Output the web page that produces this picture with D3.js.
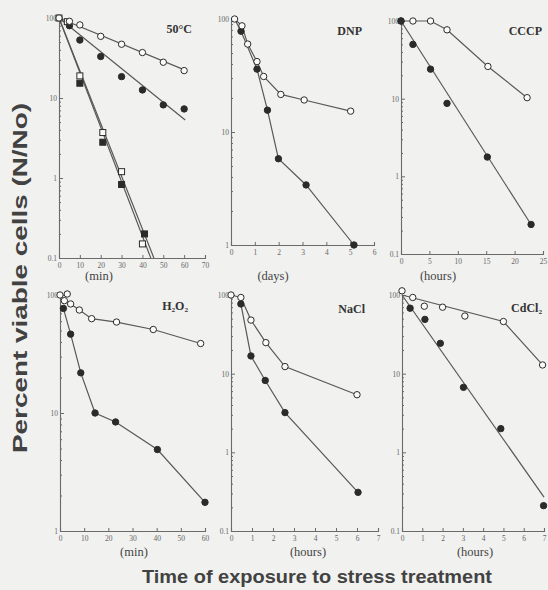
<!DOCTYPE html>
<meta charset="utf-8">
<style>
  body { margin: 0; background: #f1f1ef; }
  svg { display: block; }
  text { font-family: "Liberation Serif", "DejaVu Serif", serif; }
</style>
<body>
<script src="https://d3js.org/d3.v7.min.js"></script>
<script>

// 50°C (min)
var heatOpenCirc = [[0,100],[5,91],[10,82],[20,59],[30,47],[40,37],[50,28],[60,22]];
var heatFillCirc = [[5,80],[10,53],[20,33],[30,18.5],[40,12.6],[50,8.2],[60,7.3]];
var heatOpenSq   = [[0,100],[4,90],[10,18.9],[21,3.7],[30,1.2],[40,0.15]];
var heatFillSq   = [[10,15.3],[21,2.8],[30,0.83],[41,0.2]];
var heatLineOpenCirc = [[0,100],[61,22]];
var heatLineFillCirc = [[0,100],[60.5,5.3]];
var heatLineOpenSq   = [[0,100],[45.5,0.1]];
var heatLineFillSq   = [[0,100],[44,0.1]];

// DNP (days)
var dnpOpen = [[0.15,100],[0.46,87],[0.7,60],[1.09,42],[1.37,31],[2.09,21.5],[3.07,19.2],[5.02,15.3]];
var dnpFill = [[0.42,78],[1.09,36],[1.53,15.6],[1.99,5.8],[3.15,3.4],[5.16,1.0]];
var dnpLineFill = [[0.15,100]].concat(dnpFill);

// CCCP (hours)
var cccpOpen = [[0,100],[2.1,100],[5.2,100],[8.1,77],[15.3,26],[22.2,10.3]];
var cccpFill = [[0,100],[2.1,50],[5.2,24],[8.1,8.7],[15.2,1.77],[22.9,0.24]];
var cccpLineFill = [[0,100],[22.9,0.24]];

// H2O2 (min)
var h2o2Open = [[0,100],[3,102],[1.8,89.5],[4.4,84],[8,74.6],[13.1,63],[23.4,59],[38.6,51],[58.2,38.8]];
var h2o2LineOpen = [[1.8,89.5],[4.4,84],[8,74.6],[13.1,63],[23.4,59],[38.6,51],[58.2,38.8]];
var h2o2Fill = [[1.4,77],[4.4,46.6],[8.6,21.9],[14.5,10],[23,8.4],[40.3,4.9],[60,1.75]];

// NaCl (hours)
var naclOpen = [[0,100],[0.47,93],[0.95,48],[1.66,24.8],[2.57,12.3],[6.0,5.4]];
var naclFill = [[0.47,77],[0.95,16.8],[1.63,8.2],[2.57,3.2],[6.05,0.31]];

// CdCl2 (hours)
var cdOpen = [[0,113],[0.53,93],[1.1,72],[2.0,70],[3.1,54],[5.0,46],[6.93,12.9]];
var cdLineOpen = [[0,100],[5.0,46],[6.93,12.9]];
var cdFill = [[0.4,68],[1.13,49],[1.89,24.3],[3.03,6.7],[4.87,2.0],[6.98,0.21]];
var cdLineFill = [[0,100],[7,0.27]];

var titles = ["50°C", "DNP", "CCCP", "H₂O₂", "NaCl", "CdCl₂"];
var units  = ["(min)", "(days)", "(hours)", "(min)", "(hours)", "(hours)"];
var xTicks = [
  [0,10,20,30,40,50,60,70],
  [0,1,2,3,4,5,6],
  [0,5,10,15,20,25],
  [0,10,20,30,40,50,60],
  [0,1,2,3,4,5,6,7],
  [0,1,2,3,4,5,6,7]
];
var xMax = [70, 6, 25, 60, 7, 7];
var yMin = [0.1, 1, 0.1, 1, 0.1, 0.1];
var yTickLabels = {100: "100", 10: "10", 1: "1", 0.1: "0.1"};

var series = [
  [ {pts: heatOpenSq, line: heatLineOpenSq, shape: "sq", fill: false},
    {pts: heatFillSq, line: heatLineFillSq, shape: "sq", fill: true},
    {pts: heatFillCirc, line: heatLineFillCirc, shape: "c", fill: true},
    {pts: heatOpenCirc, line: heatLineOpenCirc, shape: "c", fill: false} ],
  [ {pts: dnpFill, line: dnpLineFill, shape: "c", fill: true},
    {pts: dnpOpen, line: dnpOpen, shape: "c", fill: false} ],
  [ {pts: cccpOpen, line: cccpOpen, shape: "c", fill: false},
    {pts: cccpFill, line: cccpLineFill, shape: "c", fill: true} ],
  [ {pts: h2o2Fill, line: h2o2Fill, shape: "c", fill: true},
    {pts: h2o2Open, line: h2o2LineOpen, shape: "c", fill: false} ],
  [ {pts: naclFill, line: naclFill, shape: "c", fill: true},
    {pts: naclOpen, line: naclOpen, shape: "c", fill: false} ],
  [ {pts: cdFill, line: cdLineFill, shape: "c", fill: true},
    {pts: cdOpen, line: cdLineOpen, shape: "c", fill: false} ]
];

// pixel frame of each panel: left, right, top, bottom
var frames = [
  [59, 205, 18, 258],
  [231, 374, 19, 245],
  [401, 543, 21, 254],
  [60, 205, 295, 531],
  [231, 378, 295, 531],
  [402, 544, 295, 531]
];
var titlePos = [[192, 33], [362, 35], [542, 35], [188, 310], [365, 313], [542, 312]];
var unitPos = [[99, 280], [273, 280], [438, 280], [134, 556], [308, 556], [475, 556]];

var width = 548, height = 590;
var ink = "#2b2b2b", lineCol = "#585858", axisCol = "#6a6a6a";

var svg = d3.select("body").append("svg")
    .attr("width", width)
    .attr("height", height);

frames.forEach(function(f, i) {
  var x = d3.scaleLinear().domain([0, xMax[i]]).range([f[0], f[1]]);
  var y = d3.scaleLog().domain([yMin[i], 100]).range([f[3], f[2]]);
  var g = svg.append("g");

  // x axis
  g.append("g")
      .attr("transform", "translate(0," + f[3] + ")")
      .call(d3.axisBottom(x).tickValues(xTicks[i]).tickSize(-3).tickPadding(5)
        .tickFormat(d3.format("d")))
      .call(function(a) {
        a.select(".domain").attr("stroke", axisCol).attr("stroke-width", 1.1);
        a.selectAll(".tick line").attr("stroke", axisCol);
        a.selectAll("text").attr("fill", "#666").style("font-size", "7.5px")
          .style("font-family", "Liberation Serif, serif");
      });

  // y axis, log with minor ticks
  var minor = [];
  for (var e = Math.log10(yMin[i]); e < 2; e++) {
    for (var k = 2; k <= 9; k++) minor.push(k * Math.pow(10, e));
  }
  var major = [0.1, 1, 10, 100].filter(function(v) { return v >= yMin[i]; });
  g.append("g")
      .attr("transform", "translate(" + f[0] + ",0)")
      .call(d3.axisLeft(y).tickValues(minor).tickSize(-2).tickFormat(""))
      .call(function(a) {
        a.select(".domain").remove();
        a.selectAll(".tick line").attr("stroke", axisCol);
      });
  g.append("g")
      .attr("transform", "translate(" + f[0] + ",0)")
      .call(d3.axisLeft(y).tickValues(major).tickSize(-4).tickPadding(2)
        .tickFormat(function(d) { return yTickLabels[d]; }))
      .call(function(a) {
        a.select(".domain").attr("stroke", axisCol).attr("stroke-width", 1.1);
        a.selectAll(".tick line").attr("stroke", axisCol);
        a.selectAll("text").attr("fill", "#666").style("font-size", "7.5px")
          .style("font-family", "Liberation Serif, serif");
      });

  var line = d3.line()
      .x(function(d) { return x(d[0]); })
      .y(function(d) { return y(Math.max(d[1], yMin[i])); });

  series[i].forEach(function(s) {
    g.append("path")
        .attr("d", line(s.line))
        .attr("fill", "none")
        .attr("stroke", lineCol)
        .attr("stroke-width", 1.2);
  });

  series[i].forEach(function(s) {
    var m = g.selectAll(null).data(s.pts).enter();
    if (s.shape === "c") {
      m.append("circle")
          .attr("cx", function(d) { return x(d[0]); })
          .attr("cy", function(d) { return y(d[1]); })
          .attr("r", 3.2)
          .attr("fill", s.fill ? ink : "#fbfbfa")
          .attr("stroke", ink)
          .attr("stroke-width", 1);
    } else {
      m.append("rect")
          .attr("x", function(d) { return x(d[0]) - 3; })
          .attr("y", function(d) { return y(d[1]) - 3; })
          .attr("width", 6)
          .attr("height", 6)
          .attr("fill", s.fill ? ink : "#fbfbfa")
          .attr("stroke", ink)
          .attr("stroke-width", 1);
    }
  });

  svg.append("text")
      .attr("x", titlePos[i][0])
      .attr("y", titlePos[i][1])
      .attr("text-anchor", "end")
      .attr("font-weight", "bold")
      .attr("font-size", 12)
      .attr("fill", "#333")
      .text(titles[i]);

  svg.append("text")
      .attr("x", unitPos[i][0])
      .attr("y", unitPos[i][1])
      .attr("text-anchor", "middle")
      .attr("font-size", 12.5)
      .attr("fill", "#444")
      .text(units[i]);
});

svg.append("text")
    .attr("transform", "translate(27,278) rotate(-90)")
    .attr("text-anchor", "middle")
    .style("font-family", "Liberation Sans, Arial, sans-serif")
    .attr("font-weight", "bold")
    .attr("font-size", 21)
    .attr("textLength", 350)
    .attr("lengthAdjust", "spacingAndGlyphs")
    .attr("fill", "#424242")
    .text("Percent viable cells (N/No)");

svg.append("text")
    .attr("x", 317)
    .attr("y", 583)
    .attr("text-anchor", "middle")
    .style("font-family", "Liberation Sans, Arial, sans-serif")
    .attr("font-weight", "bold")
    .attr("font-size", 18.5)
    .attr("textLength", 350)
    .attr("lengthAdjust", "spacingAndGlyphs")
    .attr("fill", "#424242")
    .text("Time of exposure to stress treatment");

</script>
